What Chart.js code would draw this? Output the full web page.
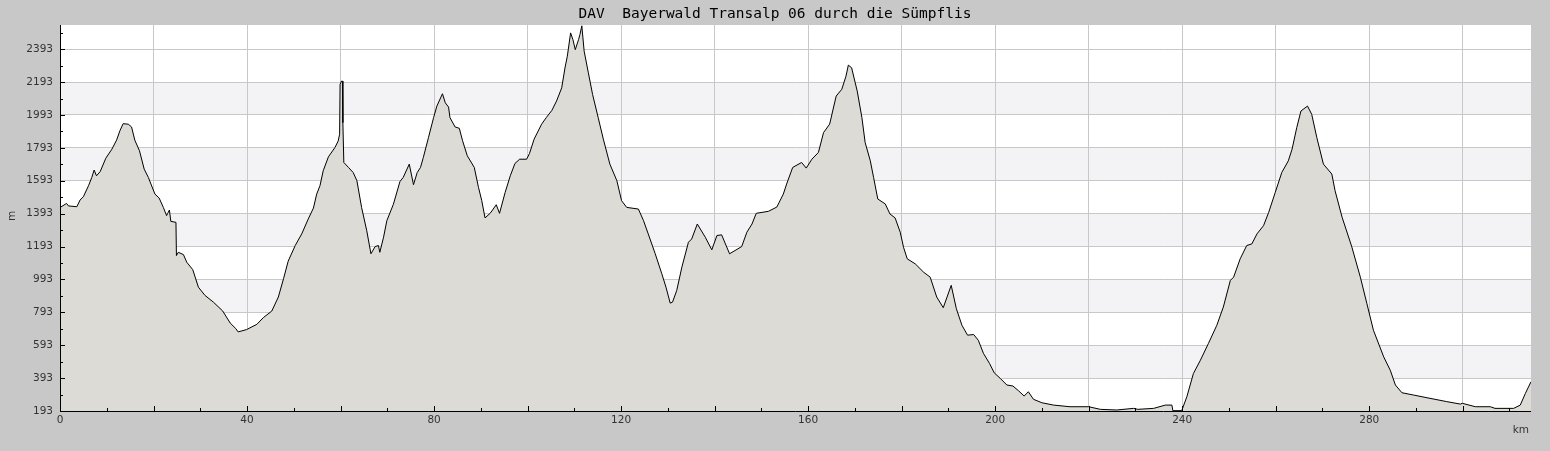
<!DOCTYPE html>
<html lang="de">
<head>
  <meta charset="UTF-8">
  <title>DAV Bayerwald Transalp 06</title>
  <script src="https://cdn.jsdelivr.net/npm/chart.js"></script>
  <style>
    body { margin: 0; background: #c8c8c8; }
    canvas { display: block; }
  </style>
</head>
<body>
<canvas id="profile" width="1550" height="451"></canvas>

<script>
  // elevation profile
  const km = [
    0, 1.4, 1.8, 3.6, 4.3, 5.0, 6.1, 6.8, 7.3, 7.8, 8.6, 9.8, 11.1, 12.1, 12.8, 13.5, 14.6, 15.3, 16.0, 17.0,
    18.0, 18.9, 20.3, 21.2, 22.1, 22.8, 23.0, 23.4, 23.7, 24.8, 24.9, 25.3, 26.4, 27.1, 28.4, 29.6, 31.0, 32.8, 34.8, 36.4,
    37.6, 38.1, 39.9, 42.1, 43.5, 45.3, 46.7, 47.8, 48.8, 50.3, 51.7, 53.1, 54.2, 54.9, 55.6, 56.3, 57.4, 58.8, 59.5, 59.8,
    59.9, 60.2, 60.4, 60.5, 60.7, 61.7, 62.7, 63.5, 64.5, 65.6, 66.5, 67.4, 68.1, 68.4, 69.2, 69.9, 71.3, 72.7, 73.4, 74.7,
    75.6, 76.4, 77.1, 77.7, 78.8, 79.9, 80.6, 81.8, 82.4, 83.1, 83.4, 84.5, 85.4, 86.1, 87.1, 88.6, 89.5, 90.2, 90.9, 92.0,
    93.3, 94.0, 95.2, 96.3, 97.3, 98.3, 99.8, 100.4, 101.4, 103.0, 104.0, 105.2, 106.2, 107.3, 108.0, 108.5, 109.2, 109.7, 110.2, 110.9,
    111.2, 111.6, 112.1, 113.0, 113.9, 115.1, 116.2, 117.6, 119.1, 120.1, 121.2, 123.7, 124.8, 125.8, 127.3, 128.7, 129.6, 130.5, 131.0, 131.9,
    133.0, 134.4, 135.1, 136.3, 138.0, 139.4, 140.5, 141.5, 143.2, 145.8, 146.9, 148.0, 148.9, 151.5, 153.3, 154.7, 155.4, 156.7, 158.6, 159.6,
    160.8, 162.2, 163.3, 164.6, 166.0, 167.2, 168.1, 168.6, 169.3, 170.5, 171.5, 172.2, 173.3, 174.0, 174.9, 176.5, 177.5, 178.6, 179.7, 180.4,
    181.2, 182.9, 184.7, 186.1, 187.5, 188.9, 190.6, 191.7, 192.9, 194.1, 195.4, 196.4, 197.5, 198.8, 199.8, 201.1, 202.5, 203.8, 205.0, 206.2,
    207.1, 208.2, 210.0, 212.5, 216.0, 220.0, 222.5, 226.0, 229.6, 230.5, 233.9, 236.4, 237.8, 238.0, 239.9, 241.0, 242.4, 243.9, 245.6, 247.4,
    248.8, 250.3, 251.0, 252.4, 253.8, 254.9, 256.0, 257.4, 258.5, 259.9, 261.3, 262.7, 263.5, 264.5, 265.4, 266.8, 267.7, 268.8, 270.2, 272.0,
    272.7, 274.2, 276.3, 278.1, 279.5, 280.9, 283.1, 284.5, 285.6, 287.0, 289.5, 293.0, 296.6, 299.5, 299.9, 302.7, 305.9, 306.9, 310.9, 312.3,
    313.4, 314.6
  ];
  const elev = [
    1430, 1455, 1440, 1435, 1476, 1496, 1563, 1613, 1658, 1623, 1649, 1730, 1785, 1840, 1896, 1940, 1937, 1920, 1840, 1775,
    1664, 1613, 1512, 1488, 1431, 1381, 1393, 1415, 1346, 1340, 1138, 1158, 1144, 1098, 1052, 946, 896, 855, 801, 728,
    694, 674, 688, 720, 761, 801, 886, 997, 1104, 1199, 1270, 1361, 1427, 1512, 1563, 1654, 1738, 1795, 1835, 1876,
    2179, 2199, 2199, 1946, 1704, 1674, 1643, 1593, 1431, 1290, 1149, 1193, 1199, 1158, 1250, 1350, 1450, 1588, 1613, 1694,
    1569, 1643, 1674, 1734, 1855, 1977, 2047, 2122, 2067, 2041, 1977, 1920, 1912, 1836, 1745, 1674, 1553, 1472, 1367, 1395,
    1447, 1395, 1522, 1623, 1698, 1724, 1724, 1758, 1846, 1937, 1977, 2021, 2078, 2158, 2279, 2350, 2492, 2451, 2390, 2451,
    2482, 2535, 2381, 2249, 2118, 1977, 1846, 1694, 1593, 1472, 1431, 1421, 1350, 1270, 1149, 1028, 946, 849, 855, 926,
    1068, 1219, 1239, 1330, 1250, 1173, 1260, 1264, 1149, 1193, 1280, 1330, 1395, 1407, 1433, 1512, 1573, 1674, 1704, 1670,
    1724, 1765, 1886, 1937, 2108, 2149, 2229, 2296, 2280, 2138, 1977, 1825, 1714, 1613, 1482, 1452, 1391, 1367, 1280, 1189,
    1118, 1088, 1037, 1007, 886, 821, 957, 815, 714, 654, 658, 623, 543, 482, 425, 391, 351, 345, 316, 284,
    310, 264, 243, 229, 219, 219, 203, 199, 209, 203, 209, 229, 229, 195, 195, 280, 421, 502, 603, 714,
    825, 987, 1007, 1118, 1199, 1209, 1270, 1320, 1401, 1522, 1643, 1714, 1785, 1916, 2017, 2047, 1997, 1855, 1694, 1634,
    1532, 1371, 1189, 1007, 846, 684, 522, 441, 351, 304, 290, 270, 250, 235, 240, 219, 219, 209, 209, 229,
    300, 371
  ];

  const xGridKm = [0, 20, 40, 60, 80, 100, 120, 140, 160, 180, 200, 220, 240, 260, 280, 300];
  const yTickM = [193, 393, 593, 793, 993, 1193, 1393, 1593, 1793, 1993, 2193, 2393];
  const title = 'DAV  Bayerwald Transalp 06 durch die Sümpflis';

  const tickFont = { family: '"DejaVu Sans"', size: 10.5 };

  // gray page, white plot with alternating lavender bands
  const bandsPlugin = {
    id: 'bands',
    beforeDraw(chart) {
      const { ctx, chartArea: a, scales: { y } } = chart;
      ctx.save();
      ctx.fillStyle = '#c8c8c8';
      ctx.fillRect(0, 0, chart.width, chart.height);
      ctx.fillStyle = '#ffffff';
      ctx.fillRect(a.left, a.top, a.right - a.left, a.bottom - a.top);
      ctx.fillStyle = '#f3f2f5';
      for (let i = 1; i < yTickM.length - 1; i += 2) {
        const top = y.getPixelForValue(yTickM[i + 1]);
        const bot = y.getPixelForValue(yTickM[i]);
        ctx.fillRect(a.left, top, a.right - a.left, bot - top);
      }
      ctx.restore();
    }
  };

  // axis lines, inside tick marks, title and unit labels
  const framePlugin = {
    id: 'frame',
    afterDraw(chart) {
      const { ctx, chartArea: a, scales: { x, y } } = chart;
      ctx.save();
      ctx.strokeStyle = '#000';
      ctx.lineWidth = 1;
      ctx.beginPath();
      ctx.moveTo(a.left + 0.5, a.top);
      ctx.lineTo(a.left + 0.5, a.bottom + 0.5);
      ctx.lineTo(a.right, a.bottom + 0.5);
      for (let v = 0; v <= x.max; v += 10) {
        const px = Math.round(x.getPixelForValue(v)) + 0.5;
        const len = v % 20 === 0 ? 5 : 3;
        ctx.moveTo(px, a.bottom);
        ctx.lineTo(px, a.bottom - len);
      }
      for (let v = yTickM[0]; v <= y.max; v += 100) {
        const py = Math.round(y.getPixelForValue(v)) + 0.5;
        const len = (v - yTickM[0]) % 200 === 0 ? 5 : 3;
        ctx.moveTo(a.left, py);
        ctx.lineTo(a.left + len, py);
      }
      ctx.stroke();

      ctx.fillStyle = '#000';
      ctx.font = '14.5px "DejaVu Sans Mono"';
      ctx.textAlign = 'center';
      ctx.textBaseline = 'middle';
      ctx.fillText(title, chart.width / 2, 14);

      ctx.fillStyle = '#333';
      ctx.font = '10.5px "DejaVu Sans"';
      ctx.textAlign = 'right';
      ctx.fillText('km', 1529, 430);
      ctx.translate(12, 216);
      ctx.rotate(-Math.PI / 2);
      ctx.textAlign = 'center';
      ctx.fillText('m', 0, 0);
      ctx.restore();
    }
  };

  new Chart(document.getElementById('profile'), {
    type: 'line',
    data: {
      datasets: [{
        data: km.map((k, i) => ({ x: k, y: elev[i] })),
        borderColor: '#000',
        borderWidth: 1,
        backgroundColor: '#dcdbd6',
        fill: 'start',
        pointRadius: 0,
        tension: 0
      }]
    },
    options: {
      responsive: false,
      animation: false,
      devicePixelRatio: 1,
      layout: { padding: { top: 25, right: 19, left: 0, bottom: 0 } },
      plugins: {
        legend: { display: false },
        title: { display: false },
        tooltip: { enabled: false }
      },
      scales: {
        x: {
          type: 'linear',
          min: 0,
          max: 314.6,
          afterBuildTicks: s => { s.ticks = xGridKm.map(v => ({ value: v })); },
          afterFit: s => { s.height = 40; },
          grid: { color: '#c8c8c8', drawTicks: false },
          border: { display: false },
          ticks: {
            padding: 3,
            autoSkip: false,
            maxRotation: 0,
            color: '#333',
            font: tickFont,
            callback: v => (v % 40 === 0 ? String(v) : '')
          }
        },
        y: {
          type: 'linear',
          min: 193,
          max: 2540,
          afterBuildTicks: s => { s.ticks = yTickM.map(v => ({ value: v })); },
          afterFit: s => { s.width = 60; },
          grid: { color: '#c8c8c8', drawTicks: false },
          border: { display: false },
          ticks: { padding: 7, color: '#333', font: tickFont, callback: v => String(v) }
        }
      }
    },
    plugins: [bandsPlugin, framePlugin]
  });
</script>
</body>
</html>
